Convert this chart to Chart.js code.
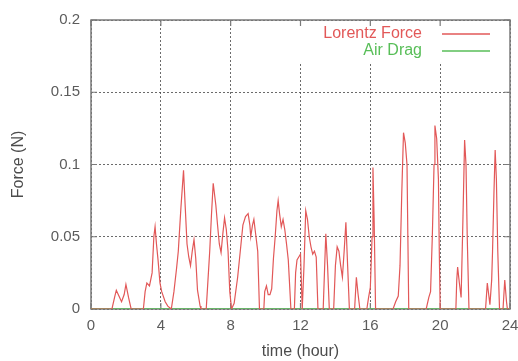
<!DOCTYPE html>
<html>
<head>
<meta charset="utf-8">
<script src="https://cdn.jsdelivr.net/npm/chart.js@4"></script>
<style>
  body { margin: 0; background: #fff; }
  #wrap { width: 518px; height: 361px; }
</style>
</head>
<body>
<div id="wrap"><canvas id="chart"></canvas></div>
<script>
// time axis (hours) and Lorentz force readings (N)
const times = [0, 1.2, 1.35, 1.45, 1.6, 1.75, 1.9, 2.0, 2.15, 2.3, 3.0, 3.1, 3.2, 3.35, 3.5, 3.6, 3.67, 3.75, 3.84, 3.95,
  4.05, 4.25, 4.4, 4.6, 4.75, 4.9, 5.0, 5.15, 5.3, 5.4, 5.5, 5.6, 5.7, 5.8, 5.9, 6.0, 6.1, 6.25, 6.3, 6.6,
  6.7, 6.8, 6.9, 7.0, 7.05, 7.15, 7.25, 7.35, 7.45, 7.55, 7.65, 7.75, 7.85, 7.95, 8.05, 8.2, 8.4, 8.55, 8.7, 8.85,
  9.0, 9.1, 9.15, 9.25, 9.33, 9.45, 9.55, 9.65, 9.9, 9.95, 10.05, 10.15, 10.25, 10.35, 10.45, 10.55, 10.65, 10.72, 10.8, 10.9,
  11.0, 11.1, 11.2, 11.3, 11.45, 11.65, 11.72, 11.8, 11.9, 12.0, 12.1, 12.2, 12.3, 12.4, 12.5, 12.6, 12.7, 12.8, 12.9, 13.0,
  13.3, 13.4, 13.45, 13.55, 13.65, 13.9, 14.0, 14.1, 14.2, 14.3, 14.4, 14.5, 14.6, 14.7, 14.8, 15.1, 15.2, 15.3, 15.4, 15.8,
  15.9, 16.0, 16.1, 16.15, 16.22, 16.3, 17.3, 17.45, 17.6, 17.7, 17.8, 17.9, 18.0, 18.1, 18.15, 18.2, 19.2, 19.35, 19.45, 19.55,
  19.65, 19.7, 19.8, 19.9, 19.95, 20.0, 20.9, 20.95, 21.0, 21.1, 21.2, 21.3, 21.4, 21.48, 21.55, 21.65, 22.6, 22.7, 22.85, 22.95,
  23.0, 23.08, 23.15, 23.22, 23.3, 23.4, 23.6, 23.7, 23.8, 23.85, 24.0];
const lorentzForce = [0, 0, 0.008, 0.013, 0.009, 0.005, 0.01, 0.017, 0.008, 0, 0, 0.012, 0.018, 0.016, 0.025, 0.05, 0.057, 0.045, 0.034, 0.018,
  0.012, 0.005, 0.002, 0, 0.012, 0.028, 0.04, 0.07, 0.096, 0.07, 0.045, 0.036, 0.03, 0.04, 0.048, 0.035, 0.013, 0.002, 0, 0,
  0.02, 0.04, 0.065, 0.087, 0.082, 0.072, 0.058, 0.045, 0.039, 0.052, 0.063, 0.055, 0.04, 0.012, 0, 0.004, 0.022, 0.04, 0.058, 0.064,
  0.066, 0.058, 0.05, 0.058, 0.062, 0.05, 0.04, 0, 0, 0.012, 0.016, 0.01, 0.01, 0.014, 0.035, 0.05, 0.068, 0.075, 0.066, 0.057,
  0.062, 0.055, 0.045, 0.034, 0, 0, 0.025, 0.034, 0.036, 0.038, 0, 0.03, 0.068, 0.062, 0.05, 0.043, 0.038, 0.04, 0.036, 0,
  0, 0.035, 0.052, 0.03, 0, 0, 0.03, 0.043, 0.04, 0.03, 0.022, 0.04, 0.06, 0.03, 0, 0, 0.022, 0.01, 0, 0,
  0.008, 0.015, 0.05, 0.098, 0.06, 0, 0, 0.005, 0.009, 0.03, 0.08, 0.122, 0.115, 0.1, 0.05, 0, 0, 0.008, 0.012, 0.05,
  0.1, 0.127, 0.118, 0.09, 0.04, 0, 0, 0.02, 0.029, 0.018, 0.008, 0.06, 0.117, 0.1, 0.05, 0, 0, 0.018, 0.003, 0.02,
  0.04, 0.08, 0.11, 0.09, 0.04, 0, 0, 0.02, 0.005, 0, 0];
// air drag stays at zero over the whole day
const airDragTimes = [0, 24];
const airDrag = [0, 0];

const xTicks = [0, 4, 8, 12, 16, 20, 24];
const yTicks = [0, 0.05, 0.1, 0.15, 0.2];
const yTickLabels = ['0', '0.05', '0.1', '0.15', '0.2'];

const redLine = 'rgb(226, 88, 88)';
const greenLine = 'rgb(88, 190, 88)';
const fontFamily = '"Liberation Sans", Arial, sans-serif';

// gnuplot-like frame, inward ticks and a cleared key box
const framePlugin = {
  id: 'frame',
  beforeDatasetsDraw(chart) {
    const { ctx, chartArea: a, scales } = chart;
    ctx.save();
    ctx.fillStyle = '#fff';
    ctx.fillRect(a.right - 215, a.top + 1, 214, 41);
    ctx.strokeStyle = '#7a7a7a';
    ctx.lineWidth = 1.5;
    ctx.strokeRect(a.left, a.top, a.right - a.left, a.bottom - a.top);
    ctx.lineWidth = 1.2;
    ctx.beginPath();
    xTicks.forEach(v => {
      const x = scales.x.getPixelForValue(v);
      ctx.moveTo(x, a.bottom); ctx.lineTo(x, a.bottom - 6);
      ctx.moveTo(x, a.top); ctx.lineTo(x, a.top + 6);
    });
    yTicks.forEach(v => {
      const y = scales.y.getPixelForValue(v);
      ctx.moveTo(a.left, y); ctx.lineTo(a.left + 6, y);
      ctx.moveTo(a.right, y); ctx.lineTo(a.right - 6, y);
    });
    ctx.stroke();
    ctx.restore();
  },
  afterDraw(chart) {
    const { ctx, chartArea: a } = chart;
    ctx.save();
    ctx.font = '16px ' + fontFamily;
    ctx.textAlign = 'right';
    ctx.textBaseline = 'middle';
    chart.data.datasets.forEach((ds, i) => {
      const y = a.top + 14 + i * 17;
      ctx.fillStyle = ds.borderColor;
      ctx.fillText(ds.label, a.right - 88, y);
      ctx.strokeStyle = ds.borderColor;
      ctx.lineWidth = 1.3;
      ctx.beginPath();
      ctx.moveTo(a.right - 68, y);
      ctx.lineTo(a.right - 20, y);
      ctx.stroke();
    });
    ctx.restore();
  }
};

const ctx = document.getElementById('chart').getContext('2d');
new Chart(ctx, {
  type: 'line',
  data: {
    datasets: [{
      label: 'Lorentz Force',
      data: times.map((t, i) => ({ x: t, y: lorentzForce[i] })),
      borderColor: redLine,
      borderWidth: 1.2,
      pointRadius: 0,
      tension: 0
    }, {
      label: 'Air Drag',
      data: airDragTimes.map((t, i) => ({ x: t, y: airDrag[i] })),
      borderColor: greenLine,
      borderWidth: 1.5,
      pointRadius: 0
    }]
  },
  options: {
    responsive: true,
    maintainAspectRatio: false,
    animation: false,
    layout: { padding: { left: 0, right: 8, top: 20, bottom: 0 } },
    plugins: {
      legend: { display: false },
      tooltip: { enabled: false }
    },
    scales: {
      x: {
        type: 'linear',
        min: 0,
        max: 24,
        afterBuildTicks: s => { s.ticks = xTicks.map(v => ({ value: v })); },
        afterFit: s => { s.height = 52; s.paddingLeft = 0; s.paddingRight = 0; },
        grid: { color: 'rgba(70,70,70,0.8)', drawTicks: false, lineWidth: 1 },
        border: { display: false, dash: [2, 2] },
        ticks: {
          padding: 8,
          maxRotation: 0,
          color: '#5c5c5c',
          font: { family: fontFamily, size: 15 }
        },
        title: {
          display: true,
          text: 'time (hour)',
          color: '#4c4c4c',
          padding: { top: 0, bottom: 0 },
          font: { family: fontFamily, size: 16 }
        }
      },
      y: {
        min: 0,
        max: 0.2,
        afterBuildTicks: s => { s.ticks = yTicks.map(v => ({ value: v })); },
        afterFit: s => { s.width = 91; s.paddingTop = 0; s.paddingBottom = 0; },
        grid: { color: 'rgba(70,70,70,0.8)', drawTicks: false, lineWidth: 1 },
        border: { display: false, dash: [2, 2] },
        ticks: {
          padding: 11,
          color: '#5c5c5c',
          callback: (v, i) => yTickLabels[i],
          font: { family: fontFamily, size: 15 }
        },
        title: {
          display: true,
          text: 'Force (N)',
          color: '#4c4c4c',
          padding: { top: 9, bottom: 0 },
          font: { family: fontFamily, size: 16 }
        }
      }
    }
  },
  plugins: [framePlugin]
});
</script>
</body>
</html>
